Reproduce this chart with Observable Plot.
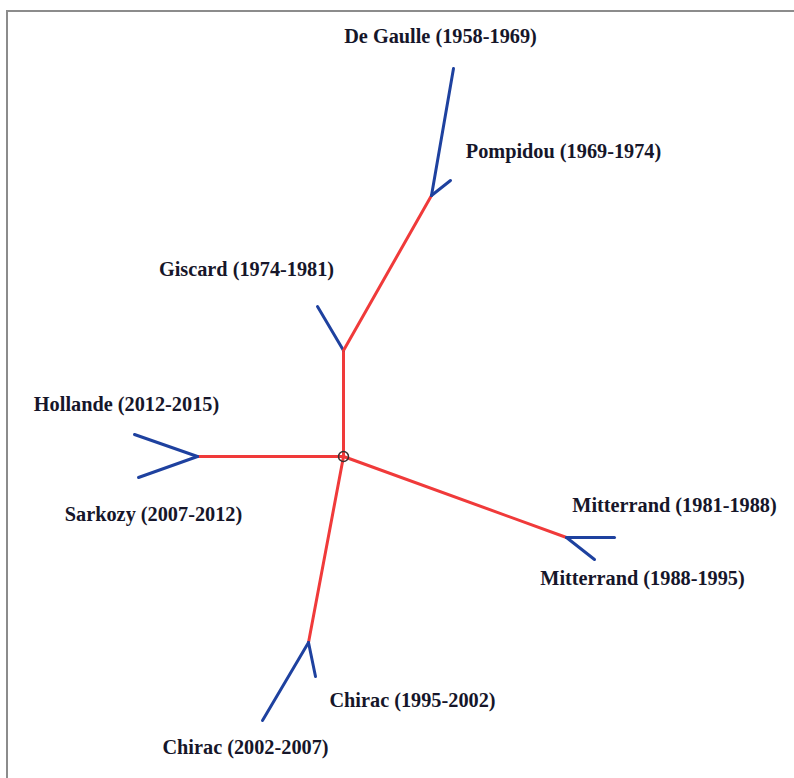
<!DOCTYPE html>
<html>
<head>
<meta charset="utf-8">
<script src="https://cdn.jsdelivr.net/npm/d3@7"></script>
<script src="https://cdn.jsdelivr.net/npm/@observablehq/plot@0.6"></script>
<style>
  html, body { margin: 0; padding: 0; background: #fff; }
  #wrap { position: relative; width: 794px; height: 778px; overflow: hidden; }
  #frame { position: absolute; left: 6px; top: 10px; right: 0; bottom: 0; border-top: 2px solid #8c8c8c; border-left: 2px solid #8c8c8c; }
  #chart { position: absolute; left: 0; top: 0; }
</style>
</head>
<body>
<div id="wrap"><div id="frame"></div><div id="chart"></div></div>
<script>
// Tree nodes (drawing units)
const nodeNames = ["center", "hollandeSarkozy", "Hollande", "Sarkozy", "giscardNode", "Giscard", "pompidouNode", "Pompidou", "De Gaulle", "mitterrandNode", "Mitterrand1", "Mitterrand2", "chiracNode", "Chirac1", "Chirac2"];
const nodeX = [343, 197, 134, 138, 343, 317, 431, 450, 453, 566, 614, 594, 308, 315, 262];
const nodeY = [456, 456, 434, 477, 350, 306, 195, 180, 68, 537, 537, 559, 642, 676, 720];

// Tree edges
const edgeFrom = [0, 1, 1, 0, 4, 4, 6, 6, 0, 9, 9, 0, 12, 12];
const edgeTo   = [1, 2, 3, 4, 5, 6, 7, 8, 9, 10, 11, 12, 13, 14];
const edgeKind = ["internal", "leaf", "leaf", "internal", "leaf", "internal", "leaf", "leaf", "internal", "leaf", "leaf", "internal", "leaf", "leaf"];

// Labels
const labelText = ["De Gaulle (1958-1969)", "Pompidou (1969-1974)", "Giscard (1974-1981)", "Hollande (2012-2015)", "Sarkozy (2007-2012)", "Mitterrand (1981-1988)", "Mitterrand (1988-1995)", "Chirac (1995-2002)", "Chirac (2002-2007)"];
const labelX = [440, 563, 246, 126, 153, 674, 642, 412, 245];
const labelY = [36, 151, 269, 404, 514, 505, 578, 700, 747];

const edges = edgeFrom.map((f, i) => ({
  x1: nodeX[f], y1: nodeY[f], x2: nodeX[edgeTo[i]], y2: nodeY[edgeTo[i]], kind: edgeKind[i]
}));
const labels = labelText.map((t, i) => ({ text: t, x: labelX[i], y: labelY[i] }));
const root = [{ x: nodeX[0], y: nodeY[0] }];

const chart = Plot.plot({
  width: 794,
  height: 778,
  margin: 0,
  x: { domain: [0, 794], range: [0, 794], axis: null },
  y: { domain: [0, 778], range: [0, 778], axis: null },
  style: { background: "transparent", overflow: "visible", fontFamily: "'Liberation Serif', serif" },
  marks: [
    Plot.link(edges, {
      x1: "x1", y1: "y1", x2: "x2", y2: "y2",
      stroke: d => d.kind === "internal" ? "#f03a3a" : "#1e419f",
      strokeWidth: 3, strokeLinecap: "round"
    }),
    Plot.dot(root, { x: "x", y: "y", r: 5, stroke: "#3a3030", strokeWidth: 1.5, fill: "none" }),
    Plot.text(labels, {
      x: "x", y: "y", text: "text",
      textAnchor: "middle",
      fontFamily: "'Liberation Serif', serif",
      fontWeight: "bold",
      fontSize: 20.3,
      fill: "#16162a"
    })
  ]
});
document.getElementById("chart").appendChild(chart);
</script>
</body>
</html>
